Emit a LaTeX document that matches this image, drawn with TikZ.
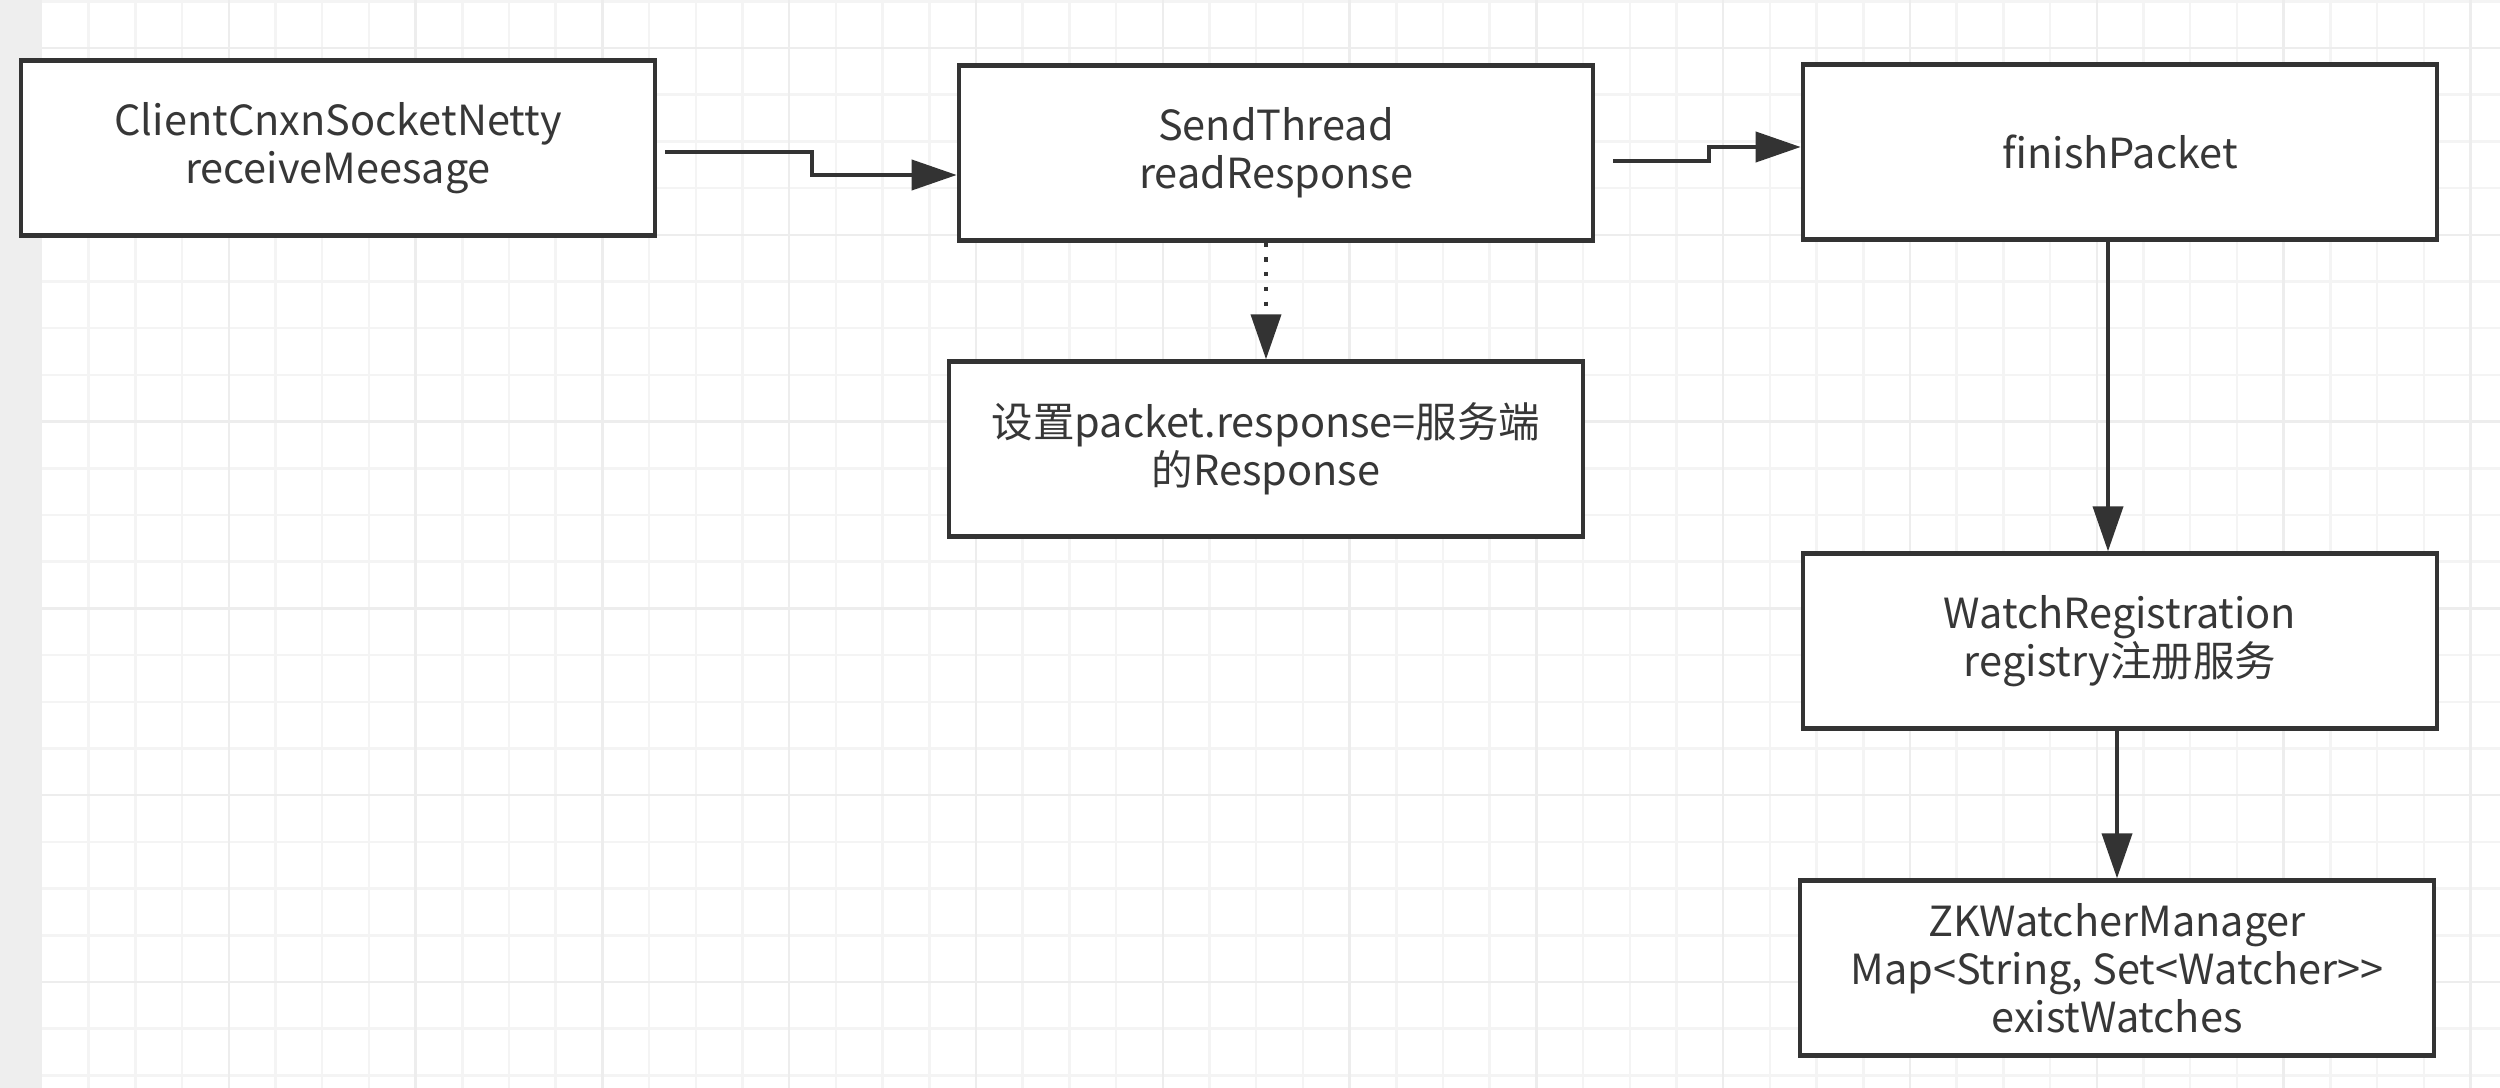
\documentclass[tikz,border=0pt]{standalone}
\usepackage{fontspec}
\setmainfont{Noto Sans CJK SC}
\usepackage{tikz}
\usepackage{xcolor}
\usetikzlibrary{arrows.meta, calc}
\definecolor{LineGray}{RGB}{51, 51, 51}
\definecolor{TextGray}{RGB}{55, 55, 55}
\definecolor{GridMinor}{RGB}{244, 244, 244}
\definecolor{GridMajor}{RGB}{237, 237, 237}
\definecolor{SideGray}{RGB}{238, 238, 238}

\begin{document}
\begin{tikzpicture}[x = 0.01cm, y = -0.01cm,
        box/.style = {draw = LineGray, line width = 1.2pt, fill = white, minimum width = 6.34cm, minimum height = 1.75cm, align = center, text = TextGray, font = \fontsize{11.8}{13.6}\selectfont},
        flow/.style = {draw = LineGray, line width = 1.2pt, -{Triangle[length = 12.8pt, width = 8.5pt]}},
        dotflow/.style = {flow, dash pattern = on 1.2pt off 3pt}]
            \useasboundingbox (0, 0) rectangle (2500, 1088);
            %画背景网格
            \fill[white] (0, 0) rectangle (2500, 1088);
            \foreach \k in {1, ..., 52}
                \draw[GridMinor, line width = 0.7pt] ({42 + 46.7*\k}, 0) -- ({42 + 46.7*\k}, 1088);
            \foreach \k in {-21, ..., 2}
                \draw[GridMinor, line width = 0.7pt] (42, {982 + 46.7*\k}) -- (2500, {982 + 46.7*\k});
            \foreach \k in {1, ..., 13}
                \draw[GridMajor, line width = 0.7pt] ({42 + 186.8*\k}, 0) -- ({42 + 186.8*\k}, 1088);
            \foreach \k in {-5, ..., 0}
                \draw[GridMajor, line width = 0.7pt] (42, {982 + 186.8*\k}) -- (2500, {982 + 186.8*\k});
            \fill[SideGray] (0, 0) rectangle (42, 1088);
            %画方框
            \node[box] (cli) at (338, 148) {ClientCnxnSocketNetty\\receiveMeesage};
            \node[box] (send) at (1276, 153) {SendThread\\readResponse};
            \node[box] (finish) at (2120, 152) {finishPacket};
            \node[box] (resp) at (1266, 449) {设置packet.response=服务端\\的Response};
            \node[box] (watchreg) at (2120, 641) {WatchRegistration\\registry注册服务};
            \node[box] (zkm) at (2117, 968) {ZKWatcherManager\\Map<String, Set<Watcher>{}>\\existWatches};
            %画箭头
            \draw[flow] ($(cli.east) + (8, 4)$) -- ++(147, 0) |- ($(send.west) + (0, 22)$);
            \draw[flow] ($(send.east) + (18, 8)$) -- ++(96, 0) |- ($(finish.west) + (0, -5)$);
            \draw[dotflow] (send.south -| resp.north) -- (resp.north);
            \draw[flow] ($(finish.south) + (-12, 0)$) -- ($(watchreg.north) + (-12, 0)$);
            \draw[flow] (watchreg.south -| zkm.north) -- (zkm.north);
        \end{tikzpicture}
\end{document}
